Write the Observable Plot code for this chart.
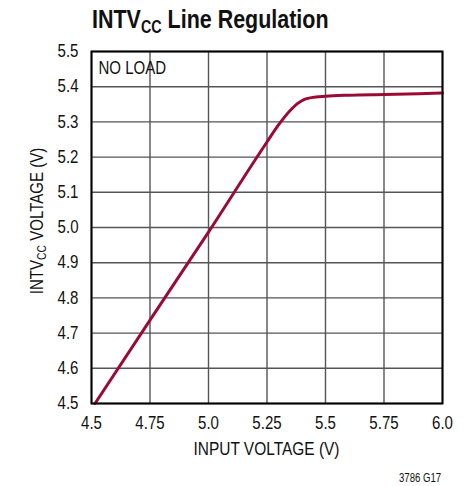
<!DOCTYPE html>
<html><head><meta charset="utf-8">
<script src="https://cdn.jsdelivr.net/npm/d3@7"></script>
<script src="https://cdn.jsdelivr.net/npm/@observablehq/plot@0.6"></script>
<style>
body{margin:0;background:#fff;}
#wrap{position:relative;width:471px;height:486px;font-family:"Liberation Sans",Arial,sans-serif;}
#title{position:absolute;left:92px;top:6px;font-size:26.5px;line-height:26.5px;font-weight:bold;color:#111;white-space:nowrap;transform:scaleX(0.81);transform-origin:0 0;}
#title sub{font-size:17.7px;vertical-align:-4.7px;line-height:0;}
#chart{position:absolute;left:0;top:40px;}
#note{position:absolute;left:399px;top:472px;font-size:12px;line-height:12px;color:#111;white-space:nowrap;transform:scaleX(0.8);transform-origin:0 0;}
</style></head>
<body><div id="wrap">
<div id="title">INTV<sub>CC</sub> Line Regulation</div>
<div id="chart"></div>
<div id="note">3786 G17</div>
</div>
<script>
const inputV = [4.515, 4.75, 5.0, 5.25, 5.3, 5.35, 5.38, 5.41, 5.44, 5.5, 5.6, 5.75, 5.9, 6.0];
const intvcc = [4.5, 4.737, 4.987, 5.243, 5.292, 5.333, 5.352, 5.364, 5.369, 5.373, 5.376, 5.378, 5.380, 5.382];
const xTicks = [4.5, 4.75, 5.0, 5.25, 5.5, 5.75, 6.0];
const yTicks = [4.5, 4.6, 4.7, 4.8, 4.9, 5.0, 5.1, 5.2, 5.3, 5.4, 5.5];
const noteLabel = ["NO LOAD"];
const data = inputV.map((x, i) => ({x, y: intvcc[i]}));

const fmtX = d => (Math.round(d * 100) % 10 === 0 ? d.toFixed(1) : d.toFixed(2));
const plot = Plot.plot({
  width: 471, height: 446,
  marginTop: 11, marginBottom: 83, marginLeft: 91, marginRight: 29,
  style: {fontFamily: '"Liberation Sans",Arial,sans-serif', fontSize: "17.5px", color: "#111", background: "#fff"},
  x: {domain: [4.5, 6.0]},
  y: {domain: [4.5, 5.5]},
  marks: [
    Plot.gridX(xTicks, {stroke: "#555", strokeOpacity: 1, strokeWidth: 1.4}),
    Plot.gridY(yTicks, {stroke: "#555", strokeOpacity: 1, strokeWidth: 1.4}),
    Plot.axisX(xTicks, {tickSize: 0, tickPadding: 13, tickFormat: fmtX, fontSize: 17.5, label: null}),
    Plot.axisY(yTicks, {tickSize: 0, tickPadding: 13, tickFormat: d => d.toFixed(1), fontSize: 17.5, label: null}),
    Plot.line(data, {x: "x", y: "y", stroke: "#9b0a35", strokeWidth: 3, curve: "monotone-x"}),
    Plot.text(noteLabel, {frameAnchor: "top-left", dx: 7, dy: 10, text: d => d, fontSize: 17.5, textAnchor: "start", lineAnchor: "top", fill: "#111"}),
    Plot.frame({stroke: "#000", strokeWidth: 2})
  ]
});
document.getElementById("chart").appendChild(plot);
const svg = d3.select(plot);
// X-axis label
svg.append("text")
  .attr("x", 91 + (471 - 91 - 29) / 2).attr("y", 415)
  .attr("text-anchor", "middle").attr("font-size", 18).attr("fill", "#111")
  .text("INPUT VOLTAGE (V)");
// Y-axis label with subscript
const t = svg.append("text")
  .attr("transform", "translate(43," + 181 + ") rotate(-90)")
  .attr("text-anchor", "middle")
  .attr("font-size", 17.5)
  .attr("fill", "#111");
t.append("tspan").text("INTV");
t.append("tspan").attr("font-size", 12).attr("dy", 3).text("CC");
t.append("tspan").attr("dy", -3).text(" VOLTAGE (V)");
// condense all SVG text horizontally (Helvetica Condensed look)
const S = 0.86;
plot.querySelectorAll("text").forEach(el => {
  const bb = el.getBBox();
  const anchor = getComputedStyle(el).textAnchor;
  const cx = anchor === "middle" ? bb.x + bb.width / 2 : anchor === "end" ? bb.x + bb.width : bb.x;
  const old = el.getAttribute("transform") || "";
  el.setAttribute("transform", `${old} translate(${cx},0) scale(${S},1) translate(${-cx},0)`);
});
</script>
</body></html>
